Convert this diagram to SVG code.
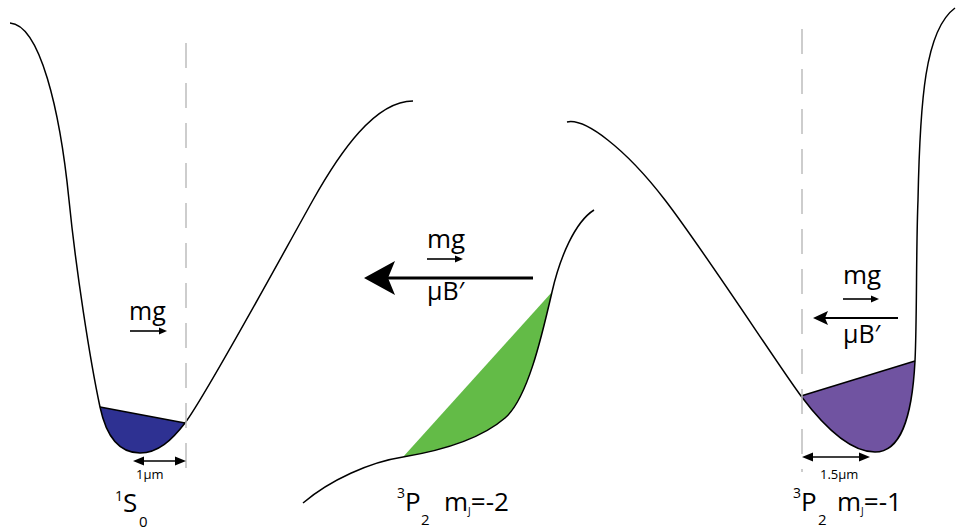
<svg xmlns="http://www.w3.org/2000/svg" width="956" height="531" viewBox="0 0 956 531">
<style>
.curve{fill:none;stroke:#000;stroke-width:1.5}
.edge{stroke:#000;stroke-width:1.5}
.dash{stroke:#bdbdbd;stroke-width:1.5;stroke-dasharray:25 15;fill:none}
.t{font-family:"Open Sans","Noto Sans",sans-serif;fill:#000}
.thin{stroke:#000;stroke-width:1.6;fill:none}
.head{fill:#000}
</style>
<rect width="956" height="531" fill="#fff"/>
<g id="well-1S0">
<path d="M100,407 C107,440 122,453 140,453 C158,453 172,440 185,423 Z" fill="#2e3192"/>
<line class="edge" x1="100" y1="407" x2="185" y2="423"/>
<path class="curve" d="M10,23 C40,25 60,110 69,200 C76,270 90,360 100,407 C107,440 122,453 140,453 C158,453 172,440 185,423 C205,397 275,268 313,200 C340,152 375,101 413,101"/>
<line class="dash" x1="186" y1="43" x2="186" y2="472"/>
<text class="t" x="129" y="320" font-size="25">mg</text>
<line class="thin" x1="130" y1="331" x2="160" y2="331"/>
<path class="head" d="M167,331 L159,327.5 L159,334.5 Z"/>
<line class="thin" x1="142" y1="461" x2="177" y2="461"/>
<path class="head" d="M133,461 L144,456.5 L144,465.5 Z M186,461 L175,456.5 L175,465.5 Z"/>
<text class="t" x="136" y="479" font-size="13">1μm</text>
<text class="t" font-size="26"><tspan x="115" y="501" font-size="14">1</tspan><tspan x="123" y="512">S</tspan><tspan x="139" y="527" font-size="15">0</tspan></text>
</g>
<g id="well-3P2-m2">
<path d="M403,457 C445,450 483,437 505,418 C527,399 541,340 552,292 Z" fill="#63bb47"/>
<path class="curve" d="M303,503 C330,480 370,462 403,457 C445,450 483,437 505,418 C527,399 541,340 552,292 C560,257 575,222 594,210"/>
<text class="t" x="427" y="248" font-size="26">mg</text>
<line class="thin" x1="427" y1="259" x2="456" y2="259"/>
<path class="head" d="M463,259 L455,255.5 L455,262.5 Z"/>
<line stroke="#000" stroke-width="3" x1="388" y1="278" x2="533" y2="278"/>
<path class="head" d="M364,278 L395,261 L388,278 L395,295 Z"/>
<text class="t" x="427" y="300" font-size="25">μB′</text>
<text class="t" font-size="26"><tspan x="397" y="498" font-size="14">3</tspan><tspan x="405" y="511">P</tspan><tspan x="421" y="525" font-size="15">2</tspan><tspan x="444" y="511">m</tspan><tspan y="515" font-size="10">J</tspan><tspan y="511">=-2</tspan></text>
</g>
<g id="well-3P2-m1">
<path d="M801,396 C825,428 850,452 875,452 C900,452 912,420 915,361 Z" fill="#7053a1"/>
<line class="edge" x1="801" y1="396" x2="915" y2="361"/>
<path class="curve" d="M567,122 C585,118 625,148 665,200 C705,252 780,368 801,396 C825,428 850,452 875,452 C900,452 912,420 915,361 C917,320 916,250 918,200 C920,100 925,30 955,8"/>
<line class="dash" x1="802" y1="29" x2="802" y2="472"/>
<text class="t" x="843" y="284" font-size="26">mg</text>
<line class="thin" x1="843" y1="299" x2="872" y2="299"/>
<path class="head" d="M879,299 L871,295.5 L871,302.5 Z"/>
<line stroke="#000" stroke-width="2" x1="824" y1="318" x2="898" y2="318"/>
<path class="head" d="M813,318 L828,311 L825,318 L828,325 Z"/>
<text class="t" x="843" y="343" font-size="25">μB′</text>
<line class="thin" x1="811" y1="457" x2="861" y2="457"/>
<path class="head" d="M802,457 L813,452.5 L813,461.5 Z M870,457 L859,452.5 L859,461.5 Z"/>
<text class="t" x="820" y="479" font-size="13">1.5μm</text>
<text class="t" font-size="26"><tspan x="793" y="498" font-size="14">3</tspan><tspan x="801" y="511">P</tspan><tspan x="818" y="525" font-size="15">2</tspan><tspan x="837" y="511">m</tspan><tspan y="515" font-size="10">J</tspan><tspan y="511">=-1</tspan></text>
</g>
</svg>
